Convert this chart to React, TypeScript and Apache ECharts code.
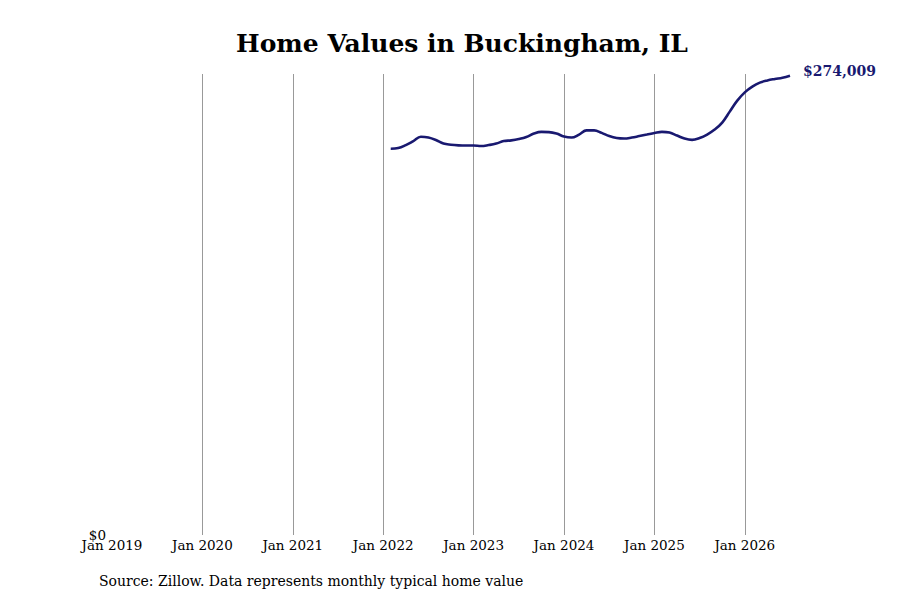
import { useEffect, useRef } from 'react'
import * as echarts from 'echarts'

// monthly typical home value, Feb 2022 .. Jul 2026
const startMonth = '2022-02'
const homeValues = [
  230400, 230800, 232600, 235000, 237550, 237080, 235590, 233500, 232790, 232430,
  232310, 232310, 232010, 232610, 233500, 234990, 235410, 236180, 237380, 239460,
  240470, 240350, 239460, 237670, 237080, 238860, 241370, 241370, 239880, 237970,
  236780, 236480, 237080, 237970, 238860, 239760, 240470, 240060, 238270, 236480,
  235710, 236780, 238860, 241840, 246010, 252560, 259120, 264060, 267460, 269840,
  271150, 272040, 272820, 274009,
]
const firstYear = 2019
const lastLabel = '$274,009'
const titleText = 'Home Values in Buckingham, IL'
const sourceText = 'Source: Zillow. Data represents monthly typical home value'

const FONT = '"DejaVu Serif", serif'

export default function App() {
  const chartRef = useRef<HTMLDivElement>(null)

  useEffect(() => {
    if (!chartRef.current) return
    const chart = echarts.init(chartRef.current, null, { renderer: 'svg' })

    const [sy, sm] = startMonth.split('-').map(Number)
    const offset = (sy - firstYear) * 12 + (sm - 1)
    const points = homeValues.map((v, i) => [offset + i, v])

    chart.setOption({
      animation: false,
      textStyle: { fontFamily: FONT },
      title: {
        text: titleText,
        left: 457,
        top: 26,
        textAlign: 'center',
        textStyle: { fontFamily: FONT, fontSize: 25, fontWeight: 'bold', color: '#000' },
      },
      graphic: [
        {
          type: 'text',
          left: 99,
          top: 574,
          style: { text: sourceText, fontFamily: FONT, fontSize: 14, fill: '#000' },
        },
      ],
      grid: { left: 112, right: 110, top: 74, bottom: 65 },
      xAxis: {
        type: 'value',
        min: 0,
        max: offset + homeValues.length - 1,
        interval: 12,
        axisLine: { show: false },
        axisTick: { show: false },
        axisLabel: {
          fontFamily: FONT,
          fontSize: 13.5,
          color: '#000',
          margin: 3,
          showMaxLabel: false,
          formatter: (v: number) => (v % 12 === 0 ? `Jan ${firstYear + v / 12}` : ''),
        },
        splitLine: {
          show: true,
          showMinLine: false,
          showMaxLine: false,
          lineStyle: { color: '#999', width: 1 },
        },
      },
      yAxis: {
        type: 'value',
        min: 0,
        max: 275000,
        axisLine: { show: false },
        axisTick: { show: false },
        splitLine: { show: false },
        axisLabel: {
          fontFamily: FONT,
          fontSize: 13.5,
          color: '#000',
          margin: 6,
          formatter: (v: number) => (v === 0 ? '$0' : ''),
        },
      },
      series: [
        {
          type: 'line',
          data: points,
          smooth: 0.4,
          showSymbol: false,
          lineStyle: { color: '#191970', width: 2.6 },
          endLabel: {
            show: true,
            formatter: () => lastLabel,
            fontFamily: FONT,
            fontSize: 14,
            fontWeight: 'bold',
            color: '#191970',
            distance: 13,
            offset: [0, -5],
          },
        },
      ],
    })

    return () => {
      chart.dispose()
    }
  }, [])

  return (
    <div
      ref={chartRef}
      style={{ position: 'fixed', left: 0, top: 0, width: 900, height: 600, background: '#fff' }}
    />
  )
}
